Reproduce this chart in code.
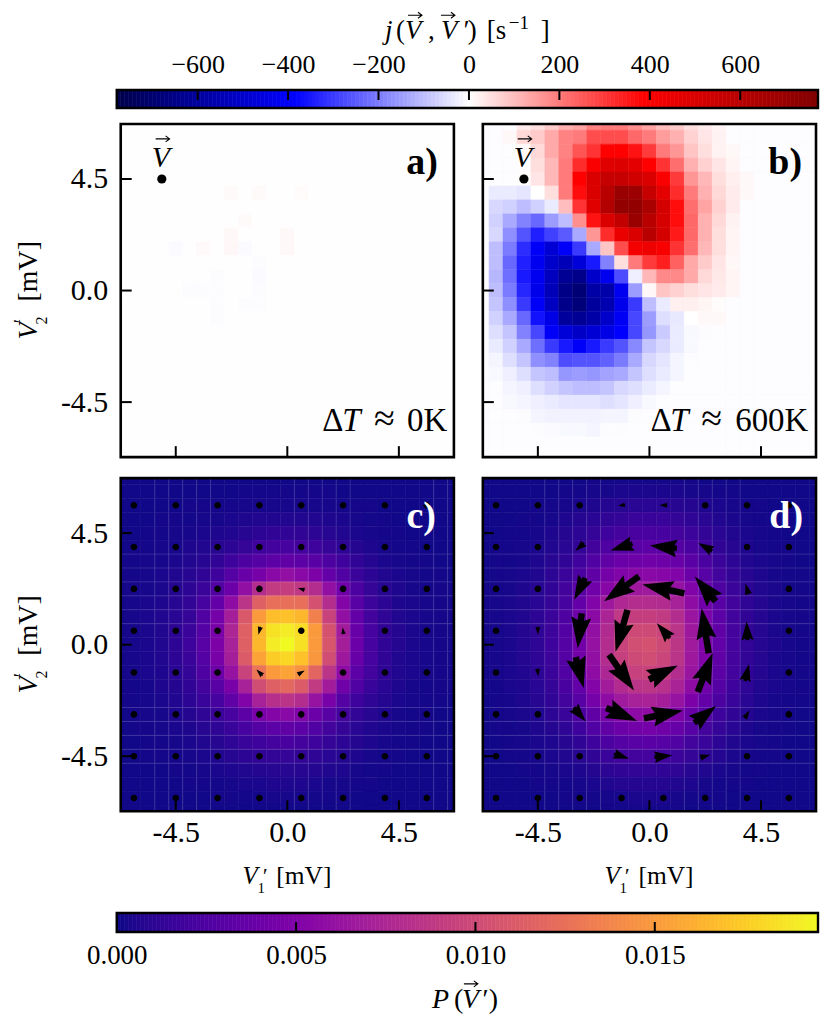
import numpy as np, pandas as pd, altair as alt

SERIF = "Liberation Serif"
K = list(range(-12, 13))          # cell index, columns left to right
J = list(range(12, -13, -1))      # cell index, rows top to bottom
STEP = 0.5625
TICKS = [-4.5, 0.0, 4.5]
JTICKS = [-600, -400, -200, 0, 200, 400, 600]
PTICKS = [0.000, 0.005, 0.010, 0.015]
V_MARK = (-5.0625, 4.5)

# faint light seams between cells in panels c and d (cell-edge indices)
SEAM_ROWS = [6.5, 5.5, 4.5, 3.5, 2.5, 1.5, -4.5, -5.5, -6.5, -7.5, -8.5]
SEAM_C = [-9.5, -8.5, -7.5, -6.5, -5.5, 0.5, 1.5, 2.5, 3.5, 4.5, 10.5, 11.5]
SEAM_D = [-7.5, -6.5, -5.5, -4.5, -3.5, 2.5, 3.5, 4.5, 5.5, 6.5]

# panel a: only a few faint cells differ from the background
A_BASE = -1.5
A_K = [-4, -2, 1, -3, -4, 0, -8, -6, -4, -3, 0, -2, -2, -5, -7, -6, -5, -2, -5, -3, -2, -5]
A_J = [7, 7, 7, 5, 4, 4, 3, 3, 3, 3, 3, 2, 1, 1, 0, 0, 0, 0, -1, -1, -1, -2]
A_V = [8, 8, 6, 8, 10, 10, -6, 9, 12, -6, 10, -5, -8, -4, -5, -5, -4, -4, -4, -5, -5, -4]

# panel b: {row: (first column, values)}, everything else is background
B_BASE = -3
B_ROWS = {
 12: (-9, [30,50,80,120,140,190,200,200,170,140,100,80,50,30,15]),
 11: (-10, [10,60,80,130,190,200,270,270,270,230,200,150,120,70,40,20]),
 10: (-9, [10,60,130,190,260,310,390,390,360,300,200,160,90,50,20,10]),
 9: (-8, [50,110,200,320,400,480,490,470,390,310,220,120,70,40,15]),
 8: (-9, [5,40,110,200,390,500,560,560,530,500,400,300,160,110,50,25,10]),
 7: (-11, [-30,-30,-40,0,50,200,370,500,600,700,690,560,470,320,200,120,60,30,10]),
 6: (-11, [-60,-70,-100,-70,-30,100,310,480,620,720,720,650,520,370,220,140,70,30]),
 5: (-11, [-70,-130,-190,-230,-150,-100,170,360,500,570,700,600,510,370,230,120,60,20]),
 4: (-11, [-60,-170,-260,-340,-290,-250,-130,160,320,450,500,600,520,350,230,120,50,15]),
 3: (-11, [-100,-200,-320,-400,-480,-400,-300,-130,90,270,420,440,410,310,220,110,50,15]),
 2: (-11, [-100,-230,-340,-420,-500,-540,-470,-350,-190,50,200,300,340,240,130,80,40,10]),
 1: (-11, [-110,-220,-350,-420,-530,-620,-640,-500,-420,-270,-25,110,180,180,130,60,35,15]),
 0: (-11, [-100,-200,-330,-430,-540,-650,-690,-580,-570,-420,-150,10,90,70,50,40,30,15]),
 -1: (-11, [-90,-170,-300,-400,-520,-640,-680,-600,-560,-430,-300,-100,-30,25,25,15,5]),
 -2: (-11, [-70,-130,-230,-360,-440,-600,-620,-580,-500,-410,-280,-150,-50,-35,0,10,10]),
 -3: (-11, [-50,-90,-190,-280,-400,-470,-510,-480,-440,-390,-280,-160,-80,-30,-10,-5]),
 -4: (-11, [-30,-70,-130,-220,-300,-350,-400,-350,-300,-260,-180,-90,-60,-30,-10]),
 -5: (-11, [-15,-50,-90,-170,-190,-270,-260,-260,-240,-200,-130,-60,-40,-15,-5]),
 -6: (-11, [-10,-25,-50,-90,-100,-160,-150,-160,-140,-130,-90,-50,-30,-15]),
 -7: (-11, [-3,-15,-25,-50,-70,-90,-100,-100,-90,-60,-50,-30,-15]),
 -8: (-10, [-10,-15,-25,-30,-40,-40,-40,-50,-40,-25,-10]),
 -9: (-9, [-5,-15,-20,-20,-20,-20,-15,-15,-5]),
 -10: (-8, [-5,-8,-10,-10,-15,-5,-5]),
}

# panels c and d: probability in units of 1e-4
C_ROWS = [
 [1,1,1,1,1,1,1,1,1,1,1,1,1,1,1,1,1,1,1,1,1,1,1,1,1],
 [1,1,1,1,1,1,1,1,1,2,2,2,2,2,2,2,1,1,1,1,1,1,1,1,1],
 [1,1,1,1,1,2,2,2,2,3,3,3,3,3,3,3,2,2,2,1,1,1,1,1,1],
 [1,1,1,2,2,2,3,3,4,5,6,6,6,6,6,5,4,3,2,2,1,1,1,1,1],
 [1,1,2,2,3,3,4,5,6,8,10,12,12,12,10,8,6,4,3,2,2,1,1,1,1],
 [1,2,2,3,3,5,6,8,10,14,18,20,22,20,18,14,10,7,5,3,2,2,1,1,1],
 [2,2,3,3,4,6,8,12,18,24,28,32,34,32,30,24,18,12,7,4,3,2,2,1,1],
 [2,2,3,4,6,8,12,18,28,38,45,55,60,55,48,36,26,16,10,6,4,3,2,2,1],
 [2,3,3,4,7,10,16,26,40,60,80,90,92,88,80,60,42,24,14,8,5,3,2,2,2],
 [2,3,4,5,8,13,22,36,58,85,115,125,125,125,105,80,52,30,17,10,5,4,3,2,2],
 [2,3,4,6,9,14,26,44,70,110,150,168,170,165,135,95,60,36,20,11,6,4,3,2,2],
 [2,3,4,6,10,16,28,46,75,115,165,185,190,183,150,105,68,38,22,12,7,4,3,2,2],
 [2,3,4,6,10,18,30,48,72,115,165,190,196,185,150,108,70,40,22,12,7,4,3,2,2],
 [2,3,4,6,10,16,28,46,70,112,155,175,180,170,148,102,66,38,22,12,6,4,3,2,2],
 [2,3,4,5,9,14,25,40,62,95,128,150,155,145,118,85,58,32,20,11,6,4,3,2,2],
 [2,2,3,5,7,12,20,30,46,72,102,115,120,112,90,68,42,26,15,9,5,3,2,2,2],
 [2,2,3,4,6,10,15,22,34,50,72,82,85,80,62,46,28,18,11,7,4,3,2,2,1],
 [1,2,3,3,5,7,11,16,22,32,46,52,55,50,40,30,20,13,8,5,3,2,2,1,1],
 [1,2,2,3,4,5,8,11,15,22,28,32,34,32,26,20,14,9,6,4,3,2,2,1,1],
 [1,1,2,2,3,4,6,8,11,15,18,21,23,21,18,14,10,7,5,3,2,2,1,1,1],
 [1,1,2,2,2,3,4,6,8,10,12,13,14,13,11,9,7,5,3,2,2,1,1,1,1],
 [1,1,1,1,2,2,3,4,5,6,7,8,8,8,7,6,5,3,2,2,1,1,1,1,1],
 [1,1,1,1,1,2,2,2,3,4,4,5,5,5,4,3,3,2,2,1,1,1,1,1,1],
 [1,1,1,1,1,1,1,2,2,2,2,3,3,3,2,2,2,1,1,1,1,1,1,1,1],
 [1,1,1,1,1,1,1,1,1,1,1,1,1,1,1,1,1,1,1,1,1,1,1,1,1],
]
D_ROWS = [
 [1,1,1,1,1,1,1,1,2,2,2,2,2,2,2,2,1,1,1,1,1,1,1,1,1],
 [1,1,1,1,1,1,2,2,3,3,4,4,4,4,4,3,3,2,2,1,1,1,1,1,1],
 [1,1,1,1,2,2,3,4,5,7,8,9,9,9,8,7,5,4,3,2,2,1,1,1,1],
 [1,1,1,2,2,3,5,7,9,12,14,15,15,15,14,11,9,6,4,3,2,2,1,1,1],
 [1,1,2,2,3,5,7,10,14,18,21,23,23,22,20,17,13,9,6,4,3,2,1,1,1],
 [1,2,2,3,4,6,9,13,19,25,29,31,32,31,28,23,18,12,8,5,3,2,2,1,1],
 [1,2,2,3,5,8,12,18,26,34,39,41,42,41,38,31,23,16,10,6,4,3,2,1,1],
 [1,2,3,4,6,10,16,24,34,44,50,54,55,53,50,40,29,20,13,8,5,3,2,2,1],
 [2,2,3,5,8,12,19,30,42,54,62,66,67,66,61,50,36,25,16,10,6,4,2,2,1],
 [2,3,4,6,9,14,22,36,50,66,76,80,80,79,72,58,42,30,19,11,7,4,3,2,2],
 [2,3,4,6,10,16,25,40,56,74,88,92,92,90,80,64,47,32,20,12,7,4,3,2,2],
 [2,3,4,7,11,17,27,42,60,78,95,100,100,97,85,66,49,34,21,13,8,4,3,2,2],
 [2,3,4,7,11,18,28,43,61,80,95,103,105,100,86,67,50,35,22,13,8,5,3,2,2],
 [2,3,4,7,11,17,28,43,60,80,93,100,102,97,85,66,50,34,21,13,8,4,3,2,2],
 [2,3,4,6,10,16,26,40,58,75,88,94,95,92,80,64,47,32,20,12,7,4,3,2,2],
 [2,2,4,5,9,14,23,36,52,68,79,85,86,83,73,58,42,28,18,11,6,4,3,2,2],
 [1,2,3,5,8,12,20,30,44,58,67,72,73,70,62,48,36,24,15,9,5,3,2,2,1],
 [1,2,3,4,6,10,15,24,34,46,53,57,58,55,49,38,28,18,12,7,4,3,2,1,1],
 [1,2,2,3,5,7,11,18,26,34,40,43,44,42,37,29,20,14,9,5,3,2,2,1,1],
 [1,1,2,3,4,5,8,12,18,24,28,30,31,29,26,20,15,10,6,4,3,2,1,1,1],
 [1,1,2,2,3,4,6,8,12,16,19,20,21,20,17,14,10,7,4,3,2,2,1,1,1],
 [1,1,1,2,2,3,4,5,7,10,12,13,13,12,11,8,6,4,3,2,2,1,1,1,1],
 [1,1,1,1,2,2,2,3,4,6,7,7,7,7,6,5,3,2,2,2,1,1,1,1,1],
 [1,1,1,1,1,1,2,2,2,3,3,4,4,4,3,2,2,2,1,1,1,1,1,1,1],
 [1,1,1,1,1,1,1,1,1,2,2,2,2,2,2,1,1,1,1,1,1,1,1,1,1],
]

# arrows on an 8x8 lattice of cell indices (right, up components)
Q_K = [-11, -8, -5, -2, 1, 4, 7, 10]
Q_J = [10, 7, 4, 1, -2, -5, -8, -11]
C_U = [[0,0,0,0,0,0,0,0],
       [0,0,0,0,0,0,0,0],
       [0,0,0,0,-7,0,0,0],
       [0,0,0,-2,0,-1,0,0],
       [0,0,0,-6,7,0,0,0],
       [0,0,0,0,0,0,0,0],
       [0,0,0,0,0,0,0,0],
       [0,0,0,0,0,0,0,0]]
C_V = [[0,0,0,0,0,0,0,0],
       [0,0,0,0,0,0,0,0],
       [0,0,0,0,2,0,0,0],
       [0,0,0,-8,0,7,0,0],
       [0,0,0,6,4,0,0,0],
       [0,0,0,0,0,0,0,0],
       [0,0,0,0,0,0,0,0],
       [0,0,0,0,0,0,0,0]]
D_U = [[0,0,0,-7,-8,0,0,0],
       [0,0,-9,-22,-27,-14,0,0],
       [0,0,-11,-35,-42,-21,-3,0],
       [0,0,-4,-12,-13,-7,-1,0],
       [0,1,8,25,29,15,4,0],
       [0,0,12,31,39,22,5,0],
       [0,0,0,15,18,10,0,0],
       [0,0,0,0,0,0,0,0]]
D_V = [[0,0,0,-1,0,0,0,0],
       [0,0,-8,-7,3,8,0,0],
       [0,0,-22,-25,9,25,11,0],
       [0,-8,-35,-42,15,45,19,0],
       [0,-8,-31,-36,14,39,17,0],
       [0,0,-14,-13,8,17,8,0],
       [0,0,0,-5,2,3,0,0],
       [0,0,0,0,0,0,0,0]]

W = 334
H = 334
DOM = [-6.72, 6.72]
xs = alt.Scale(domain=DOM, nice=False, zero=False, clamp=True)
ys = alt.Scale(domain=DOM, nice=False, zero=False, clamp=True)
J_SCALE = alt.Scale(domain=[-775, -387.5, 0, 387.5, 775], interpolate="rgb",
                    range=["#00004d", "#0000ff", "#ffffff", "#ff0000", "#800000"])
P_MAX = 0.01955
P_SCALE = alt.Scale(scheme="plasma", domain=[0, P_MAX])
one = pd.DataFrame({"o": [0]})


def txt(s, x, y, size=24, style="normal", weight="normal", color="black", angle=0, align="left"):
    return alt.Chart(one).mark_text(text=s, font=SERIF, fontSize=size, fontStyle=style, fontWeight=weight,
                                    color=color, angle=angle, align=align, baseline="alphabetic").encode(
        x=alt.value(x), y=alt.value(y))


def vec(cx, cy):
    # the small arrow over a V
    return alt.Chart(one).mark_point(shape="M-7,0 L7,0 M3,-3 L7,0 L3,3", size=4, filled=False, stroke="black",
                                     strokeWidth=1.1, opacity=1).encode(x=alt.value(cx), y=alt.value(cy))


def cells(matrix):
    rows = []
    for r, j in zip(matrix, J):
        for k, v in zip(K, r):
            rows.append({"x0": (k - .5) * STEP, "x1": (k + .5) * STEP,
                         "y0": (j - .5) * STEP, "y1": (j + .5) * STEP, "v": v})
    return pd.DataFrame(rows)


def frame(x0, w, h, sw=2.6):
    return alt.Chart(one).mark_rect(fill=None, stroke="black", strokeWidth=sw).encode(
        x=alt.value(x0), x2=alt.value(w), y=alt.value(0), y2=alt.value(h))


def seams(cols, xax, yax):
    c = pd.DataFrame({"e": [v * STEP for v in cols]})
    r = pd.DataFrame({"e": [v * STEP for v in SEAM_ROWS]})
    return [
        alt.Chart(c).mark_rule(color="white", opacity=0.16, strokeWidth=0.9).encode(
            x=alt.X("e:Q", scale=xs, axis=xax)),
        alt.Chart(r).mark_rule(color="white", opacity=0.16, strokeWidth=0.9).encode(
            y=alt.Y("e:Q", scale=ys, axis=yax)),
    ]


def arrows(U, V, xax, yax):
    rows = []
    w, hw, hl, ha = 6.5, 20.0, 31.0, 28.0
    for j, ru, rv in zip(Q_J, U, V):
        for k, u, v in zip(Q_K, ru, rv):
            L = float(np.hypot(u, v))
            if L == 0:
                p = "M -0.33,0 A 0.33,0.33 0 1,1 0.33,0 A 0.33,0.33 0 1,1 -0.33,0 Z"
                ang = 0
            else:
                s = min(1.0, L / hl)
                pts = [(0, -L/2), (hw*s/2, -L/2+hl*s), (w*s/2, -L/2+ha*s), (w*s/2, L/2),
                       (-w*s/2, L/2), (-w*s/2, -L/2+ha*s), (-hw*s/2, -L/2+hl*s)]
                p = "M" + " L".join(f"{a/10:.3f},{b/10:.3f}" for a, b in pts) + " Z"
                ang = float(np.degrees(np.arctan2(u, v))) % 360
            rows.append({"x": k * STEP, "y": j * STEP, "p": p, "ang": ang})
    return alt.Chart(pd.DataFrame(rows)).mark_point(filled=True, fill="black", stroke=None, opacity=1, size=400).encode(
        x=alt.X("x:Q", scale=xs, axis=xax), y=alt.Y("y:Q", scale=ys, axis=yax),
        shape=alt.Shape("p:N", scale=None, legend=None),
        angle=alt.Angle("ang:Q", scale=None))


LAB = "datum.value<0 ? '-4.5' : (datum.value>0 ? '4.5' : '0.0')"


def axes(show_x, show_y):
    xax = alt.Axis(values=TICKS, labels=show_x, labelExpr=LAB, ticks=False, domain=False, grid=False, title=None,
                   labelFont=SERIF, labelFontSize=30, labelColor="black", labelPadding=6)
    yax = alt.Axis(values=TICKS, labels=show_y, labelExpr=LAB, ticks=False, domain=False, grid=False, title=None,
                   labelFont=SERIF, labelFontSize=30, labelColor="black", labelPadding=13)
    return xax, yax


def ghost(y):
    # invisible: only sets how far the panel's layout box reaches below the plot
    return alt.Chart(one).mark_rule(opacity=0).encode(x=alt.value(0), y=alt.value(y), y2=alt.value(y - 1))


def panel(matrix, scale, show_x, show_y, extra_fn):
    xax, yax = axes(show_x, show_y)
    heat = alt.Chart(cells(matrix)).mark_rect(strokeWidth=0.5).encode(
        x=alt.X("x0:Q", scale=xs, axis=xax), x2="x1:Q",
        y=alt.Y("y0:Q", scale=ys, axis=yax), y2="y1:Q",
        color=alt.Color("v:Q", scale=scale, legend=None),
        stroke=alt.Stroke("v:Q", scale=scale, legend=None))
    tk = pd.DataFrame({"t": TICKS})
    xt = alt.Chart(tk).mark_rule(color="black", strokeWidth=2).encode(
        x=alt.X("t:Q", scale=xs, axis=xax), y=alt.value(H - 11), y2=alt.value(H))
    yt = alt.Chart(tk).mark_rule(color="black", strokeWidth=2).encode(
        y=alt.Y("t:Q", scale=ys, axis=yax), x=alt.value(0), x2=alt.value(11))
    return alt.layer(heat, xt, yt, *extra_fn(xax, yax), frame(0, W, H)).properties(width=W, height=H)


def v_label(xax, yax):
    d = pd.DataFrame({"x": [V_MARK[0]], "y": [V_MARK[1]]})
    return [
        alt.Chart(d).mark_point(filled=True, fill="black", size=85, opacity=1).encode(
            x=alt.X("x:Q", scale=xs, axis=xax), y=alt.Y("y:Q", scale=ys, axis=yax)),
        txt("V", 31, 43, 30, "italic"),
        vec(42, 15),
    ]


def y_title():
    return [
        txt("V", -84, 216, 28, "italic", angle=270),
        txt("′", -93, 201, 20, "italic", angle=270),
        txt("2", -74, 201, 16, angle=270),
        txt("[mV]", -84, 178, 28, angle=270),
    ]


def x_title():
    return [
        txt("V", 122, 407, 25, "italic"),
        txt("′", 141, 406, 22, "italic"),
        txt("1", 137, 416, 15),
        txt("[mV]", 156, 407, 25.5),
    ]


def dt(val, xd, xt_, xa, xv):
    return [txt("Δ", xd, 308, 33), txt("T", xt_, 308, 33, "italic"),
            txt("≈", xa, 308, 38), txt(val + "K", xv, 308, 33)]


A = np.full((25, 25), A_BASE, dtype=float)
for k, j, v in zip(A_K, A_J, A_V):
    A[J.index(j), K.index(k)] = v
B = np.full((25, 25), B_BASE, dtype=float)
for j, (k0, vals) in B_ROWS.items():
    for i, v in enumerate(vals):
        B[J.index(j), K.index(k0 + i)] = v
C = np.array(C_ROWS) * 1e-4
D = np.array(D_ROWS) * 1e-4

pa = panel(A, J_SCALE, False, True, lambda x, y:
           v_label(x, y) + y_title() + [ghost(H + 7), txt("a)", 318, 50, 38, weight="bold", align="right")] + dt("0", 202, 222, 254, 287))
pb = panel(B, J_SCALE, False, False, lambda x, y:
           v_label(x, y) + [ghost(H + 7), txt("b)", 320, 50, 38, weight="bold", align="right")] + dt("600", 168, 188, 219, 253))
pc = panel(C, P_SCALE, True, True, lambda x, y:
           seams(SEAM_C, x, y) + [arrows(C_U, C_V, x, y), ghost(H + 88)] + y_title() + x_title() + [txt("c)", 316, 50, 38, "normal", "bold", "white", align="right")])
pd_ = panel(D, P_SCALE, True, False, lambda x, y:
            seams(SEAM_D, x, y) + [arrows(D_U, D_V, x, y), ghost(H + 88)] + x_title() + [txt("d)", 321, 50, 38, "normal", "bold", "white", align="right")])

BAR_L = -4
BAR_R = 699


def colorbar(lo, hi, scale, ticks, orient, fmt, titles, tick_top, h, size, pad):
    edges = np.linspace(lo, hi, 177)
    bar = pd.DataFrame({"a": edges[:-1], "b": edges[1:], "m": (edges[:-1] + edges[1:]) / 2})
    bs = alt.Scale(domain=[lo, hi], nice=False, zero=False, range=[BAR_L, BAR_R])
    ax = alt.Axis(orient=orient, values=ticks, ticks=False, domain=False, grid=False, title=None, format=fmt,
                  labelFont=SERIF, labelFontSize=size, labelColor="black", labelPadding=pad, labelFlush=False)
    rects = alt.Chart(bar).mark_rect(strokeWidth=0.6).encode(
        x=alt.X("a:Q", scale=bs, axis=ax), x2="b:Q",
        color=alt.Color("m:Q", scale=scale, legend=None),
        stroke=alt.Stroke("m:Q", scale=scale, legend=None))
    y0, y1 = (0, 10) if tick_top else (h - 10, h)
    inner = [t for t in ticks if t != lo]
    tk = alt.Chart(pd.DataFrame({"t": inner})).mark_rule(color="black", strokeWidth=2).encode(
        x=alt.X("t:Q", scale=bs, axis=ax), y=alt.value(y0), y2=alt.value(y1))
    return alt.layer(rects, tk, *titles, frame(BAR_L, BAR_R, h, 2.4)).properties(width=BAR_R, height=h)


top_titles = [txt("j", 265, -51, 27, "italic"), txt("(", 276, -51, 27), txt("V", 285, -51, 27, "italic"),
              vec(295, -75), txt(",", 308, -51, 27), txt("V", 321, -51, 27, "italic"),
              vec(328, -75), txt("′", 342, -51, 27, "italic"), txt(")", 348, -51, 27),
              txt("[s", 367, -51, 27), txt("−1", 389, -61, 19), txt("]", 421, -51, 27)]
bot_titles = [txt("P", 312, 95, 28, "italic"), txt("(", 334, 95, 28), txt("V", 342, 95, 28, "italic"),
              vec(351, 71), txt("′", 361, 95, 28, "italic"), txt(")", 369, 95, 28)]

jbar = colorbar(-779, 772, J_SCALE, JTICKS, "top", "d", top_titles, True, 18, 26, 13)
pbar = colorbar(0, P_MAX, P_SCALE, PTICKS, "bottom", ".3f", bot_titles, False, 19, 27, 11)

row1 = alt.hconcat(pa, pb, spacing=25).resolve_scale(color="independent", stroke="independent")
row2 = alt.hconcat(pc, pd_, spacing=25).resolve_scale(color="independent", stroke="independent")
chart = alt.vconcat(jbar, row1, row2, pbar, spacing=12).resolve_scale(color="independent", stroke="independent").properties(
    padding={"left": 4, "top": 0, "right": 0, "bottom": 0}
).configure_view(stroke=None)

chart.save("out.html", embed_options={"renderer": "svg", "actions": False})
